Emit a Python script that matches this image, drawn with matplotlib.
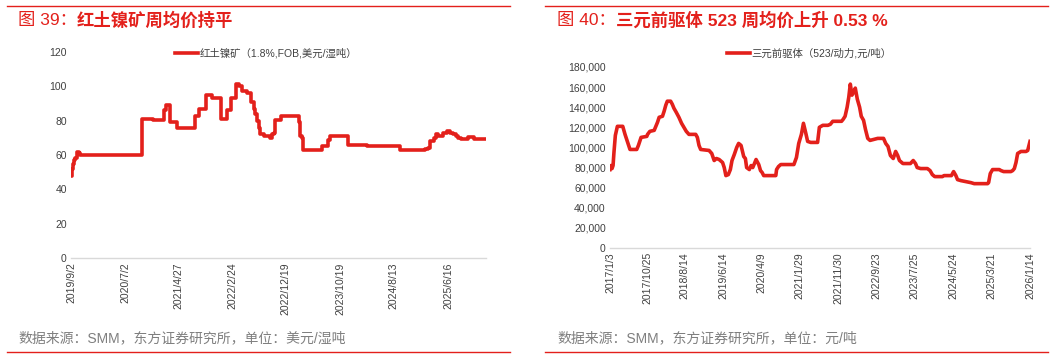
import pandas as pd
import matplotlib.pyplot as plt
from matplotlib.ticker import FuncFormatter

plt.rcParams['font.family'] = ['Liberation Sans', 'Noto Sans CJK SC', 'DejaVu Sans']

RED = '#E3201B'
TXT = '#404040'
GREY = '#7f7f7f'

# 红土镍矿 (1.8%, FOB) 周均价, 美元/湿吨 —— 阶梯数据（变动日期, 数值）
ni_dates = ['2019-09-02', '2019-09-08', '2019-09-13', '2019-09-19', '2019-09-26', '2019-10-04',
            '2019-10-15', '2019-10-22', '2020-10-02', '2020-12-07', '2021-02-07', '2021-02-16',
            '2021-03-10', '2021-04-17', '2021-07-29', '2021-08-22', '2021-09-28', '2021-10-30',
            '2021-12-20', '2022-01-22', '2022-02-14', '2022-03-16', '2022-03-31', '2022-04-15',
            '2022-05-14', '2022-06-08', '2022-06-21', '2022-07-02', '2022-07-11', '2022-07-21',
            '2022-07-30', '2022-08-16', '2022-09-19', '2022-10-02', '2022-10-11', '2022-10-21',
            '2022-11-23', '2023-03-01', '2023-03-08', '2023-03-19', '2023-03-27', '2023-07-11',
            '2023-08-10', '2023-08-25', '2023-12-04', '2024-03-20', '2024-09-18', '2025-02-05',
            '2025-02-22', '2025-03-04', '2025-03-28', '2025-04-06', '2025-04-20', '2025-05-19',
            '2025-06-07', '2025-06-26', '2025-07-15', '2025-07-28', '2025-08-10', '2025-08-25',
            '2025-10-07', '2025-11-08', '2026-01-14']
ni_vals = [47.5, 52, 55, 57, 58, 62,
           61, 60, 81, 80.5, 86, 89,
           79, 76, 83, 87, 95, 93,
           81, 86, 93, 101.5, 100, 97,
           96, 91, 87, 84, 80, 76,
           72, 71, 70, 72, 73, 80.5,
           83, 79, 71, 70, 63, 65,
           69, 71, 66, 65.5, 63, 63.5,
           64, 68, 70, 72, 71, 73,
           74, 73, 72, 71, 70, 69.5,
           70.5, 69.5, 69.5]
ni_ticks = ['2019/9/2', '2020/7/2', '2021/4/27', '2022/2/24', '2022/12/19',
            '2023/10/19', '2024/8/13', '2025/6/16']

# 三元前驱体 523 (动力) 周均价, 元/吨
pc_dates = ['2017-01-03', '2017-01-11', '2017-01-19', '2017-01-27', '2017-02-03', '2017-02-14',
            '2017-03-02', '2017-04-13', '2017-05-01', '2017-05-19', '2017-05-30', '2017-06-09',
            '2017-08-01', '2017-08-14', '2017-09-04', '2017-10-19', '2017-10-25', '2017-11-12',
            '2017-12-16', '2017-12-29', '2018-01-11', '2018-01-24', '2018-02-19', '2018-03-04',
            '2018-03-17', '2018-03-29', '2018-04-24', '2018-05-07', '2018-05-20', '2018-06-07',
            '2018-06-28', '2018-07-19', '2018-08-06', '2018-08-25', '2018-09-15', '2018-11-07',
            '2018-11-20', '2018-12-03', '2018-12-16', '2019-02-20', '2019-03-13', '2019-04-01',
            '2019-04-19', '2019-05-10', '2019-06-06', '2019-06-19', '2019-07-02', '2019-07-21',
            '2019-08-06', '2019-08-19', '2019-09-06', '2019-09-25', '2019-10-10', '2019-10-29',
            '2019-11-19', '2019-12-02', '2019-12-12', '2020-01-02', '2020-01-16', '2020-01-29',
            '2020-02-11', '2020-02-24', '2020-03-16', '2020-03-30', '2020-04-12', '2020-04-24',
            '2020-07-28', '2020-08-03', '2020-08-18', '2020-09-05', '2020-12-17', '2021-01-06',
            '2021-01-24', '2021-02-14', '2021-03-02', '2021-03-19', '2021-04-04', '2021-04-28',
            '2021-06-21', '2021-07-05', '2021-08-01', '2021-09-10', '2021-09-29', '2021-10-18',
            '2021-12-26', '2022-01-08', '2022-01-23', '2022-02-08', '2022-02-21', '2022-03-05',
            '2022-03-18', '2022-03-31', '2022-04-13', '2022-04-29', '2022-05-17', '2022-05-30',
            '2022-06-17', '2022-07-02', '2022-07-20', '2022-08-07', '2022-10-06', '2022-11-21',
            '2022-12-08', '2022-12-26', '2023-01-14', '2023-02-05', '2023-02-24', '2023-03-12',
            '2023-03-26', '2023-04-22', '2023-06-20', '2023-07-12', '2023-07-30', '2023-08-12',
            '2023-09-08', '2023-10-31', '2023-11-21', '2023-12-09', '2023-12-28', '2024-02-26',
            '2024-03-10', '2024-05-07', '2024-05-24', '2024-06-11', '2024-06-24', '2024-07-21',
            '2024-08-29', '2024-10-07', '2024-11-02', '2025-02-15', '2025-02-23', '2025-03-08',
            '2025-03-26', '2025-05-18', '2025-05-31', '2025-06-21', '2025-08-17', '2025-08-31',
            '2025-09-13', '2025-09-26', '2025-10-09', '2025-11-04', '2025-12-14', '2025-12-27',
            '2026-01-14']
pc_vals = [78000, 82000, 79000, 82000, 95000, 112000,
           121000, 121000, 113000, 106000, 102000, 98000,
           98000, 102000, 110000, 111000, 113000, 116000,
           117000, 121000, 125000, 130000, 131000, 136000,
           142000, 146000, 146000, 143000, 139000, 135000,
           130000, 124000, 120000, 116000, 113000, 113000,
           110000, 102000, 98000, 97000, 94000, 87000,
           89000, 88000, 85000, 80000, 72000, 73000,
           78000, 87000, 93000, 100000, 104000, 102000,
           91000, 89000, 80000, 78000, 82000, 80000,
           84000, 88000, 83000, 77000, 75000, 72000,
           72000, 78000, 81000, 83000, 83000, 90000,
           104000, 113000, 124000, 115000, 106000, 105000,
           105000, 120000, 122000, 122000, 123000, 126000,
           126000, 128000, 131000, 140000, 150000, 163000,
           152000, 155000, 159000, 148000, 140000, 131000,
           127000, 118000, 109000, 107000, 109000, 109000,
           104000, 101000, 92000, 89000, 96000, 92000,
           87000, 84000, 84000, 87000, 84000, 80000,
           79000, 79000, 77000, 73000, 71000, 71000,
           72000, 72000, 76000, 72000, 68000, 67000,
           66000, 65000, 64000, 64000, 65000, 74000,
           78000, 78000, 77000, 76000, 76000, 77000,
           79000, 85000, 94000, 96000, 96000, 97000,
           106000]
pc_ticks = ['2017/1/3', '2017/10/25', '2018/8/14', '2019/6/14', '2020/4/9', '2021/1/29',
            '2021/11/30', '2022/9/23', '2023/7/25', '2024/5/24', '2025/3/21', '2026/1/14']

W, H = 1061, 358
fig = plt.figure(figsize=(W / 100, H / 100), dpi=100)


def fx(px):
    return px / W


def fy(py):
    return 1 - py / H


def style_axis(ax, ticks):
    for s in ['left', 'right', 'top']:
        ax.spines[s].set_visible(False)
    ax.spines['bottom'].set_color('#d9d9d9')
    ax.spines['bottom'].set_linewidth(1.0)
    ax.tick_params(length=0, labelsize=7.5, labelcolor=TXT, pad=3)
    ax.set_xticks(pd.to_datetime(ticks, format='%Y/%m/%d'))
    ax.set_xticklabels(ticks, rotation=90)


def title(x, y, num, rest):
    t1 = fig.text(fx(x), fy(y), num, color=RED, fontsize=12.5, va='center', ha='left')
    fig.canvas.draw()
    bb = t1.get_window_extent(fig.canvas.get_renderer())
    fig.text(bb.x1 / W, fy(y), rest, color=RED, fontsize=12.5, va='center', ha='left',
             fontweight='bold')


# 左图
ax1 = fig.add_axes([fx(71), fy(258), fx(486 - 71), fy(52) - fy(258)])
d1 = pd.to_datetime(ni_dates)
ax1.step(d1, ni_vals, where='post', color=RED, lw=2.6, label='红土镍矿（1.8%,FOB,美元/湿吨）')
ax1.set_xlim(d1[0], d1[-1])
ax1.set_ylim(0, 120)
ax1.set_yticks(range(0, 121, 20))
style_axis(ax1, ni_ticks)
ax1.legend(loc='center left', bbox_to_anchor=(fx(170), fy(53)), bbox_transform=fig.transFigure,
           frameon=False, fontsize=7.5, handlelength=2.2, handletextpad=0.1, borderpad=0,
           labelcolor=TXT)

# 右图
ax2 = fig.add_axes([fx(610), fy(248), fx(1030 - 610), fy(67) - fy(248)])
d2 = pd.to_datetime(pc_dates)
ax2.plot(d2, pc_vals, color=RED, lw=2.6, label='三元前驱体（523/动力,元/吨）')
ax2.set_xlim(d2[0], d2[-1])
ax2.set_ylim(0, 180000)
ax2.set_yticks(range(0, 180001, 20000))
ax2.yaxis.set_major_formatter(FuncFormatter(lambda v, p: f'{int(v):,}'))
style_axis(ax2, pc_ticks)
ax2.legend(loc='center left', bbox_to_anchor=(fx(722), fy(53)), bbox_transform=fig.transFigure,
           frameon=False, fontsize=7.5, handlelength=2.2, handletextpad=0.1, borderpad=0,
           labelcolor=TXT)

# 标题、来源、红色分隔线
title(18, 20, '图 39：', '红土镍矿周均价持平')
title(557, 20, '图 40：', '三元前驱体 523 周均价上升 0.53 %')
fig.text(fx(18), fy(338), '数据来源：SMM，东方证券研究所，单位：美元/湿吨', color=GREY,
         fontsize=10, va='center', ha='left')
fig.text(fx(557), fy(338), '数据来源：SMM，东方证券研究所，单位：元/吨', color=GREY,
         fontsize=10, va='center', ha='left')
for x0, x1 in [(7, 510), (545, 1048)]:
    fig.add_artist(plt.Line2D([fx(x0), fx(x1)], [fy(6), fy(6)], color=RED, lw=1.0))
    fig.add_artist(plt.Line2D([fx(x0), fx(x1)], [fy(352), fy(352)], color=RED, lw=1.0))

fig.savefig('out.png', dpi=100)
